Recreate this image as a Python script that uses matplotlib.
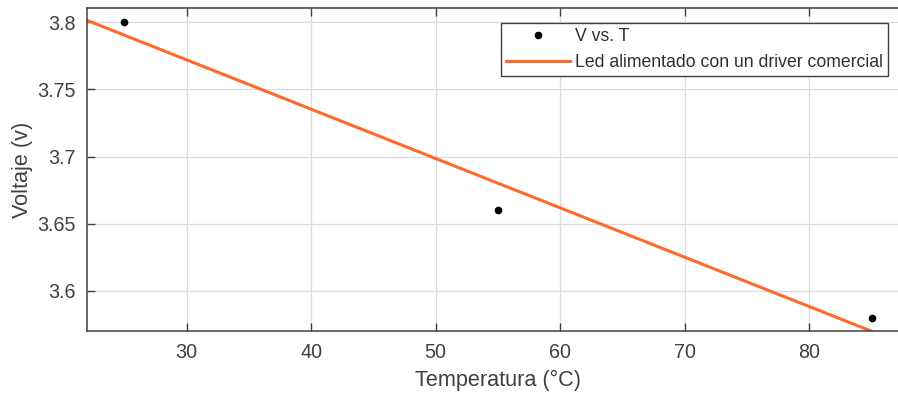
import matplotlib.pyplot as plt

plt.rcParams['font.family'] = ['Liberation Sans', 'DejaVu Sans']

temp = [25, 55, 85]
volt = [3.80, 3.66, 3.58]

# fitted line end points
fit_t = [22, 85]
fit_v = [3.8013, 3.5700]

fig = plt.figure(figsize=(8.98, 3.96), dpi=100)
ax = fig.add_axes([87 / 898, 1 - 331 / 396, 822 / 898, 323 / 396])

ax.plot(temp, volt, 'o', color='k', markersize=4.5, label='V vs. T')
ax.plot(fit_t, fit_v, '-', color='#ff6a2a', linewidth=2.2,
        label='Led alimentado con un driver comercial')

ax.set_xlim(22, 88)
ax.set_ylim(3.5702, 3.8105)
ax.set_xticks([30, 40, 50, 60, 70, 80])
ax.set_yticks([3.6, 3.65, 3.7, 3.75, 3.8])
ax.set_yticklabels(['3.6', '3.65', '3.7', '3.75', '3.8'])

ax.grid(True, color='#dcdcdc', linewidth=0.9)
ax.set_axisbelow(True)
ax.tick_params(direction='in', length=6, width=1, colors='#404040',
               labelsize=14.2, top=True, right=True)
ax.tick_params(axis='x', pad=9)
ax.tick_params(axis='y', pad=8)
for s in ax.spines.values():
    s.set_color('#404040')
    s.set_linewidth(1.1)
ax.spines['right'].set_visible(False)

ax.set_xlabel('Temperatura (°C)', fontsize=15.6, color='#404040', labelpad=5)
ax.set_ylabel('Voltaje (v)', fontsize=15.6, color='#404040', labelpad=3)

leg = ax.legend(loc='upper right', fontsize=12.7, fancybox=False,
                framealpha=1, edgecolor='#404040', handlelength=3.6,
                borderpad=0.3, labelspacing=0.5, handletextpad=0.3,
                borderaxespad=0)
leg.set_bbox_to_anchor((888 / 898, 1 - 23 / 396), transform=fig.transFigure)
for t in leg.get_texts():
    t.set_color('#303030')

fig.savefig('out.png', dpi=100)
